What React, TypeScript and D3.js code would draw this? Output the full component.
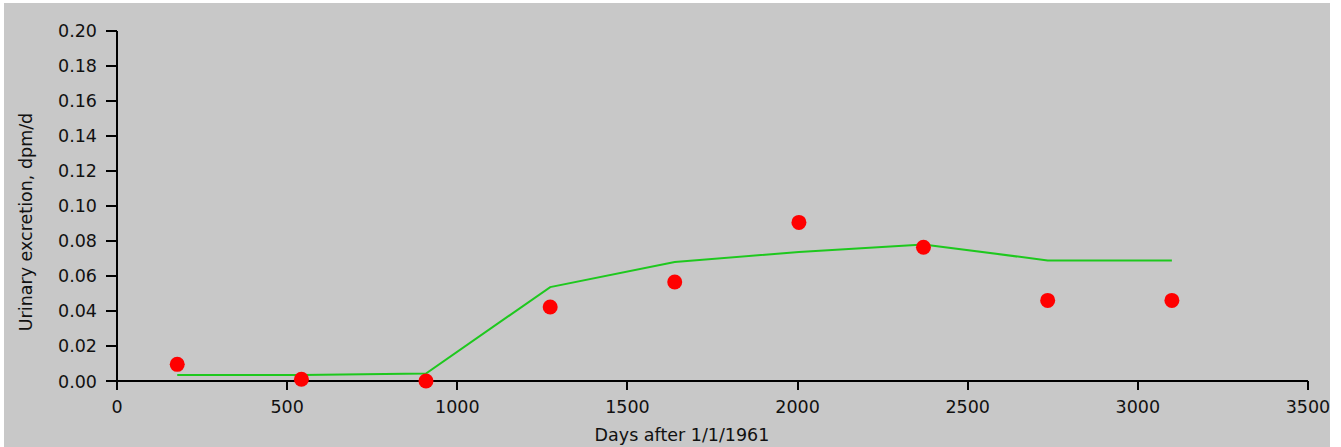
import React from "react";
import * as d3 from "d3";

const days = [177, 542, 908, 1273, 1639, 2004, 2370, 2735, 3100];
const measured = [0.0095, 0.001, 0.0, 0.0422, 0.0565, 0.0905, 0.0763, 0.046, 0.046];
const modelled = [0.0034, 0.0034, 0.0043, 0.0536, 0.0679, 0.0736, 0.0779, 0.0688, 0.0688];
const xTicks = [0, 500, 1000, 1500, 2000, 2500, 3000, 3500];
const yTicks = [0, 0.02, 0.04, 0.06, 0.08, 0.1, 0.12, 0.14, 0.16, 0.18, 0.2];
const xTitle = "Days after 1/1/1961";
const yTitle = "Urinary excretion, dpm/d";

const W = 1341;
const H = 447;
const FONT = "'DejaVu Sans', sans-serif";

export default function App() {
  const x = d3.scaleLinear().domain([0, 3500]).range([117, 1308]);
  const y = d3.scaleLinear().domain([0, 0.2]).range([381, 30.5]);
  const line = d3
    .line<number>()
    .x((_, i) => x(days[i]))
    .y((v) => y(v));
  const fmtY = d3.format(".2f");

  return (
    <svg
      width={W}
      height={H}
      style={{ position: "absolute", left: 0, top: 0, display: "block" }}
      fontFamily={FONT}
    >
      <rect x={0} y={0} width={W} height={H} fill="#ffffff" />
      <rect x={4} y={3} width={1326} height={H - 3} fill="#c8c8c8" />

      {/* axes */}
      <g stroke="#000" strokeWidth={2} shapeRendering="crispEdges">
        <line x1={x(0)} x2={x(0)} y1={y(0.2)} y2={y(0)} />
        <line x1={x(0)} x2={x(3500)} y1={y(0)} y2={y(0)} />
        {yTicks.map((t) => (
          <line key={"yt" + t} x1={x(0) - 11} x2={x(0)} y1={y(t)} y2={y(t)} />
        ))}
        {xTicks.map((t) => (
          <line key={"xt" + t} x1={x(t)} x2={x(t)} y1={y(0)} y2={y(0) + 9} />
        ))}
      </g>

      <g fontSize={17.5} fill="#111">
        {yTicks.map((t) => (
          <text key={"yl" + t} x={97} y={y(t) + 6.5} textAnchor="end">
            {fmtY(t)}
          </text>
        ))}
        {xTicks.map((t) => (
          <text key={"xl" + t} x={x(t)} y={413} textAnchor="middle">
            {String(t)}
          </text>
        ))}
        <text x={682} y={441} textAnchor="middle">
          {xTitle}
        </text>
        <text
          transform={`translate(31.5,222) rotate(-90)`}
          textAnchor="middle"
        >
          {yTitle}
        </text>
      </g>

      <path
        d={line(modelled) || ""}
        fill="none"
        stroke="#1ec81e"
        strokeWidth={2}
      />

      {measured.map((v, i) => (
        <circle key={"p" + i} cx={x(days[i])} cy={y(v)} r={7.5} fill="#ff0000" />
      ))}
    </svg>
  );
}
